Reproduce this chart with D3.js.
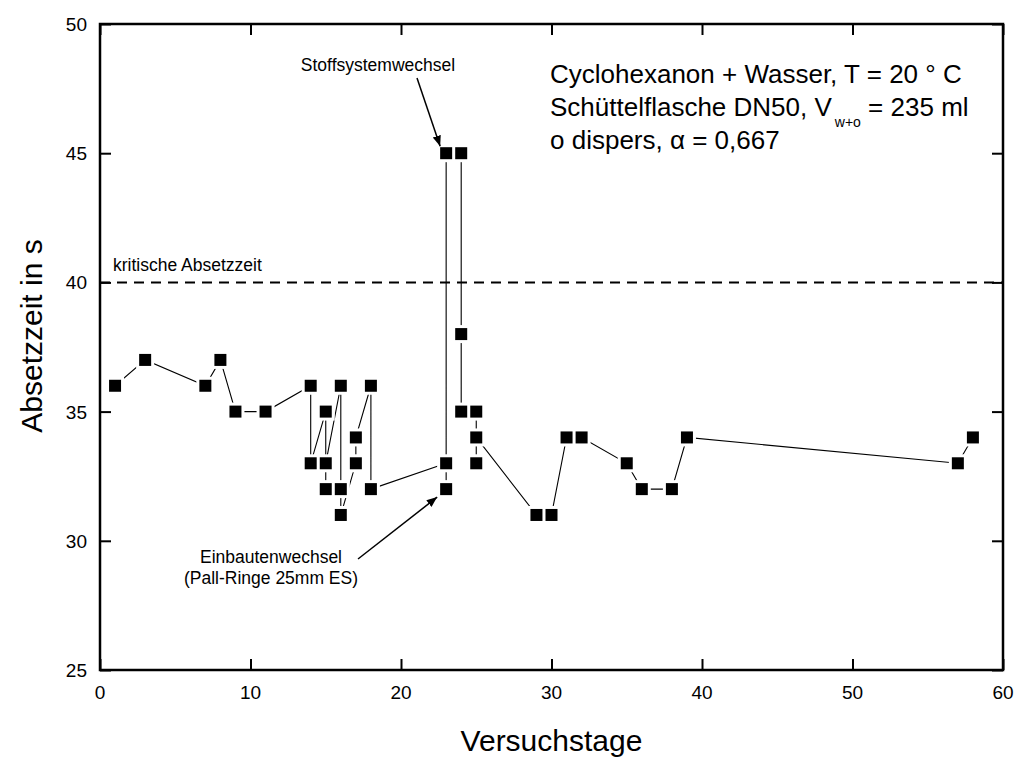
<!DOCTYPE html>
<meta charset="utf-8">
<style>
body { margin: 0; background: #fff; overflow: hidden; }
text { font-family: "Liberation Sans", Arial, Helvetica, sans-serif; fill: #000; }
.axis path, .axis line { stroke: #000; }
.link { fill: none; stroke: #000; stroke-width: 1.1px; }
</style>
<div id="chart"></div>
<script src="https://cdnjs.cloudflare.com/ajax/libs/d3/7.8.5/d3.min.js"></script>
<script>

// measurements in chronological order (day, settling time in s)
var days  = [1, 3, 7, 8, 9, 11, 14, 14, 15, 15, 15, 16, 16, 16, 17, 17, 18, 18,
             23, 23, 23, 24, 24, 24, 25, 25, 25, 29, 30, 31, 32, 35, 36, 38, 39, 57, 58];
var times = [36, 37, 36, 37, 35, 35, 36, 33, 35, 32, 33, 36, 32, 31, 33, 34, 36, 32,
             33, 32, 45, 45, 38, 35, 35, 33, 34, 31, 31, 34, 34, 33, 32, 32, 34, 33, 34];
var criticalTime = 40;
var xTicks = [0, 10, 20, 30, 40, 50, 60];
var yTicks = [25, 30, 35, 40, 45, 50];

var width = 1016, height = 758;
var margin = {left: 100, right: 13, top: 24, bottom: 88};

var svg = d3.select("#chart").append("svg")
    .attr("width", width)
    .attr("height", height);

var x = d3.scaleLinear().domain([0, 60]).range([margin.left, width - margin.right]);
var y = d3.scaleLinear().domain([25, 50]).range([height - margin.bottom, margin.top]);

var x0 = x.range()[0], x1 = x.range()[1], y0 = y.range()[0], y1 = y.range()[1];

// ticks pointing inwards on all four sides
function tickSet(axisFn, scale, major, minor, tr) {
    var g = svg.append("g").attr("class", "axis").attr("transform", tr);
    g.call(axisFn(scale).tickValues(minor).tickSize(6).tickFormat(""))
        .call(a => a.select(".domain").remove());
    g.call(axisFn(scale).tickValues(major).tickSize(11).tickFormat(""))
        .call(a => a.select(".domain").remove());
    g.selectAll("line").attr("stroke-width", 2);
    return g;
}
var xMinor = d3.range(5, 60, 10), yMinor = d3.range(27.5, 50, 5);
tickSet(d3.axisTop, x, xTicks, xMinor, `translate(0,${y0})`);
tickSet(d3.axisBottom, x, xTicks, xMinor, `translate(0,${y1})`);
tickSet(d3.axisRight, y, yTicks, yMinor, `translate(${x0},0)`);
tickSet(d3.axisLeft, y, yTicks, yMinor, `translate(${x1},0)`);

svg.append("rect")
    .attr("x", x0).attr("y", y1)
    .attr("width", x1 - x0).attr("height", y0 - y1)
    .attr("fill", "none").attr("stroke", "#000").attr("stroke-width", 2.5);

// tick labels
svg.selectAll("text.xl").data(xTicks).enter().append("text")
    .attr("class", "xl")
    .attr("x", d => x(d)).attr("y", y0 + 29)
    .attr("text-anchor", "middle")
    .style("font-size", "19px")
    .text(d => d);
svg.selectAll("text.yl").data(yTicks).enter().append("text")
    .attr("class", "yl")
    .attr("x", x0 - 13).attr("y", d => y(d) + 7)
    .attr("text-anchor", "end")
    .style("font-size", "19px")
    .text(d => d);

// axis titles
svg.append("text")
    .attr("x", (x0 + x1) / 2).attr("y", 751)
    .attr("text-anchor", "middle")
    .style("font-size", "30px")
    .text("Versuchstage");
svg.append("text")
    .attr("transform", "translate(42,336) rotate(-90)")
    .attr("text-anchor", "middle")
    .style("font-size", "30px")
    .text("Absetzzeit in s");

// critical settling time
svg.append("line")
    .attr("x1", x0).attr("x2", x1)
    .attr("y1", y(criticalTime)).attr("y2", y(criticalTime))
    .attr("stroke", "#000").attr("stroke-width", 2)
    .attr("stroke-dasharray", "10,7");
svg.append("text")
    .attr("x", x0 + 13).attr("y", y(criticalTime) - 11)
    .style("font-size", "17.5px")
    .text("kritische Absetzzeit");

// series: line, white halos (gaps near markers), square markers
var pts = days.map((d, i) => ({day: d, t: times[i]}));
svg.append("path")
    .datum(pts)
    .attr("class", "link")
    .attr("d", d3.line().x(d => x(d.day)).y(d => y(d.t)));

var ms = 12, gap = 3;
svg.selectAll("rect.halo").data(pts).enter().append("rect")
    .attr("class", "halo")
    .attr("x", d => x(d.day) - ms / 2 - gap)
    .attr("y", d => y(d.t) - ms / 2 - gap)
    .attr("width", ms + 2 * gap).attr("height", ms + 2 * gap)
    .attr("fill", "#fff");
svg.selectAll("rect.pt").data(pts).enter().append("rect")
    .attr("class", "pt")
    .attr("x", d => x(d.day) - ms / 2)
    .attr("y", d => y(d.t) - ms / 2)
    .attr("width", ms).attr("height", ms)
    .attr("fill", "#000");

// arrows
svg.append("defs").append("marker")
    .attr("id", "arr")
    .attr("viewBox", "0 0 10 10")
    .attr("refX", 10).attr("refY", 5)
    .attr("markerWidth", 7).attr("markerHeight", 7)
    .attr("orient", "auto")
  .append("path").attr("d", "M0,1 L10,5 L0,9 Z").attr("fill", "#000");

svg.append("text")
    .attr("x", 378).attr("y", 71)
    .attr("text-anchor", "middle")
    .style("font-size", "17.5px")
    .text("Stoffsystemwechsel");
svg.append("line")
    .attr("x1", 417).attr("y1", 78)
    .attr("x2", x(23) - 6).attr("y2", y(45) - 7)
    .attr("stroke", "#000").attr("stroke-width", 1.5)
    .attr("marker-end", "url(#arr)");

svg.append("text")
    .attr("x", 271).attr("y", 563)
    .attr("text-anchor", "middle")
    .style("font-size", "17.5px")
    .text("Einbautenwechsel");
svg.append("text")
    .attr("x", 271).attr("y", 584)
    .attr("text-anchor", "middle")
    .style("font-size", "17.5px")
    .text("(Pall-Ringe 25mm ES)");
svg.append("line")
    .attr("x1", 358).attr("y1", 559)
    .attr("x2", x(23) - 9).attr("y2", y(32) + 8)
    .attr("stroke", "#000").attr("stroke-width", 1.5)
    .attr("marker-end", "url(#arr)");

// conditions
var info = svg.append("g").style("font-size", "26px");
info.append("text").attr("x", 550).attr("y", 83)
    .text("Cyclohexanon + Wasser, T = 20 \u00b0 C");
var l2 = info.append("text").attr("x", 550).attr("y", 116);
l2.append("tspan").text("Schüttelflasche DN50, V");
l2.append("tspan").attr("dy", 11).attr("dx", 3).style("font-size", "14px").text("w+o");
l2.append("tspan").attr("dy", -11).text(" = 235 ml");
info.append("text").attr("x", 550).attr("y", 149)
    .text("o dispers, \u03b1 = 0,667");

</script>
